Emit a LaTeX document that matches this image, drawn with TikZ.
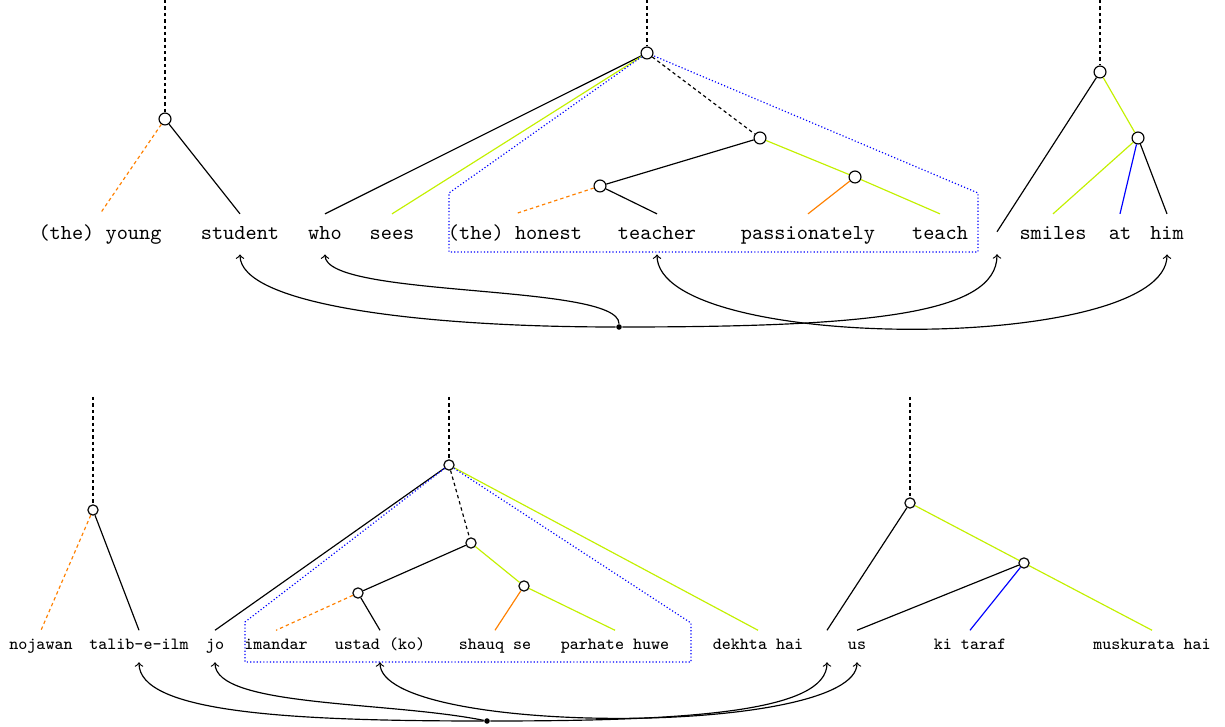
\documentclass[tikz,border=0pt]{standalone}
\usepackage{tikz}
\definecolor{limegreen}{RGB}{195,240,0}
\tikzset{
	headstyle/.style={circle,draw=black,fill=white,inner sep=0pt,minimum size=5.6pt},
	smallheadstyle/.style={headstyle,minimum size=4.8pt},
	wordstyle/.style={anchor=base,font=\ttfamily,text height=8pt,text depth=2.5pt,inner sep=4pt},
	smallwordstyle/.style={anchor=base,font=\ttfamily\footnotesize,text height=6pt,text depth=2.5pt,inner sep=3pt},
	nullstyle/.style={inner sep=5pt},
	dotstyle/.style={circle,fill=black,inner sep=0pt,minimum size=2.6pt},
	rootstyle/.style={dash pattern=on 1.6pt off 1.4pt},
	modstyle/.style={orange,dash pattern=on 1.6pt off 1.4pt},
	adjstyle/.style={orange},
	argstyle/.style={limegreen},
	prepstyle/.style={blue},
	spanstyle/.style={blue,densely dotted}
}

\begin{document}
\begin{tikzpicture}[x=0.47pt,y=-0.47pt,line width=0.55pt]
		\useasboundingbox (0,0) rectangle (1225,727);
		% english
		\node[wordstyle] (young) at (100,240) {(the) young};
		\node[wordstyle] (student) at (240,240) {student};
		\node[wordstyle] (who) at (325,240) {who};
		\node[wordstyle] (sees) at (392,240) {sees};
		\node[wordstyle] (honest) at (515,240) {(the) honest};
		\node[wordstyle] (teacher) at (657,240) {teacher};
		\node[wordstyle] (passionately) at (808,240) {passionately};
		\node[wordstyle] (teach) at (940,240) {teach};
		\node[nullstyle] (null) at (997,243) {};
		\node[wordstyle] (smiles) at (1053,240) {smiles};
		\node[wordstyle] (at) at (1120,240) {at};
		\node[wordstyle] (him) at (1167,240) {him};
		\coordinate (lroot) at (165,0);
		\coordinate (mroot) at (647,0);
		\coordinate (rroot) at (1100,0);
		\node[headstyle] (l1) at (165,119) {};
		\node[headstyle] (m1) at (647,53) {};
		\node[headstyle] (m2) at (760,138) {};
		\node[headstyle] (m3) at (600,186) {};
		\node[headstyle] (m4) at (855,177) {};
		\node[headstyle] (r1) at (1100,72) {};
		\node[headstyle] (r2) at (1138,138) {};
		\node[dotstyle] (t) at (619,327) {};
		\draw[rootstyle] (lroot)--(l1);
		\draw[modstyle] (l1)--(young.north);
		\draw (l1)--(student.north);
		\draw[rootstyle] (mroot)--(m1);
		\draw (m1)--(who.north);
		\draw[argstyle] (m1)--(sees.north);
		\draw[rootstyle] (m1)--(m2);
		\draw (m2)--(m3);
		\draw[argstyle] (m2)--(m4);
		\draw[modstyle] (m3)--(honest.north);
		\draw (m3)--(teacher.north);
		\draw[adjstyle] (m4)--(passionately.north);
		\draw[argstyle] (m4)--(teach.north);
		\draw[spanstyle] (m1)--(449,193)--(449,252)--(978,252)--(978,193)--(m1);
		\draw[rootstyle] (rroot)--(r1);
		\draw (r1)--(null.north);
		\draw[argstyle] (r1)--(r2);
		\draw[argstyle] (r2)--(smiles.north);
		\draw[prepstyle] (r2)--(at.north);
		\draw (r2)--(him.north);
		\draw[->] (t) .. controls +(-200,0) and +(0,50) .. (student.south);
		\draw[->] (t) .. controls +(0,-44) and +(0,44) .. (who.south);
		\draw[->] (t) .. controls +(250,0) and +(0,60) .. (null.south);
		\draw[<->] (teacher.south) to[out=-90,in=-90,looseness=0.5] (him.south);
		% urdu
		\node[smallwordstyle] (nojawan) at (41,650) {nojawan};
		\node[smallwordstyle] (talib) at (139,650) {talib-e-ilm};
		\node[smallwordstyle] (jo) at (215,650) {jo};
		\node[smallwordstyle] (imandar) at (276,650) {imandar};
		\node[smallwordstyle] (ustad) at (380,650) {ustad (ko)};
		\node[smallwordstyle] (shauq) at (495,650) {shauq se};
		\node[smallwordstyle] (parhate) at (615,650) {parhate huwe};
		\node[smallwordstyle] (dekhta) at (758,650) {dekhta hai};
		\node[smallwordstyle] (unull) at (827,650) {};
		\node[smallwordstyle] (us) at (857,650) {us};
		\node[smallwordstyle] (taraf) at (970,650) {ki taraf};
		\node[smallwordstyle] (muskurata) at (1152,650) {muskurata hai};
		\coordinate (ulroot) at (93,397);
		\coordinate (umroot) at (449,397);
		\coordinate (urroot) at (910,397);
		\node[smallheadstyle] (u1) at (93,510) {};
		\node[smallheadstyle] (v1) at (449,465) {};
		\node[smallheadstyle] (v2) at (471,543) {};
		\node[smallheadstyle] (v3) at (358,593) {};
		\node[smallheadstyle] (v4) at (524,586) {};
		\node[smallheadstyle] (w1) at (910,503) {};
		\node[smallheadstyle] (w2) at (1024,563) {};
		\node[dotstyle] (b) at (487,721) {};
		\draw[rootstyle] (ulroot)--(u1);
		\draw[modstyle] (u1)--(nojawan.north);
		\draw (u1)--(talib.north);
		\draw[rootstyle] (umroot)--(v1);
		\draw (v1)--(jo.north);
		\draw[rootstyle] (v1)--(v2);
		\draw[argstyle] (v1)--(dekhta.north);
		\draw (v2)--(v3);
		\draw[argstyle] (v2)--(v4);
		\draw[modstyle] (v3)--(imandar.north);
		\draw (v3)--(ustad.north);
		\draw[adjstyle] (v4)--(shauq.north);
		\draw[argstyle] (v4)--(parhate.north);
		\draw[spanstyle] (v1)--(245,622)--(245,662)--(691,662)--(691,623)--(v1);
		\draw[rootstyle] (urroot)--(w1);
		\draw (w1)--(unull.north);
		\draw[argstyle] (w1)--(w2);
		\draw (w2)--(us.north);
		\draw[prepstyle] (w2)--(taraf.north);
		\draw[argstyle] (w2)--(muskurata.north);
		\draw[->] (b) .. controls +(-200,0) and +(0,50) .. (talib.south);
		\draw[->] (b) .. controls +(-100,-20) and +(0,45) .. (jo.south);
		\draw[->] (b) .. controls +(200,0) and +(0,50) .. (unull.south);
		\draw[<->] (ustad.south) to[out=-90,in=-90,looseness=0.4] (us.south);
\end{tikzpicture}
\end{document}
